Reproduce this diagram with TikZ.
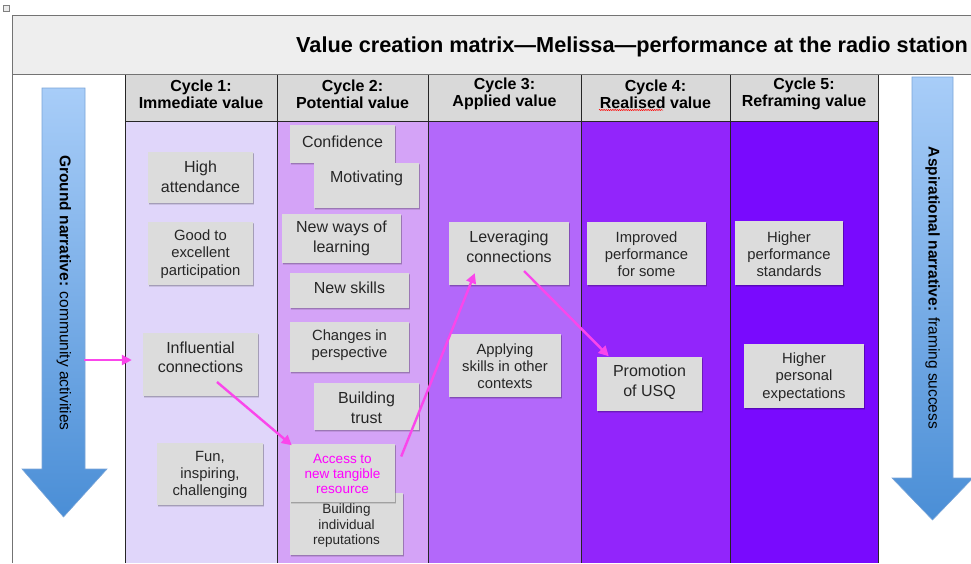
\documentclass[tikz,border=0pt]{standalone}
\usepackage{fontspec}
\setmainfont{Liberation Sans}
\usetikzlibrary{arrows.meta,calc,decorations.pathmorphing}
\definecolor{cA}{HTML}{E0D6FA}
\definecolor{cB}{HTML}{D4A3F7}
\definecolor{cC}{HTML}{B368FA}
\definecolor{cD}{HTML}{9225FB}
\definecolor{cE}{HTML}{790AFE}
\definecolor{headfill}{HTML}{D9D9D9}
\definecolor{titlefill}{HTML}{EEEEEE}
\definecolor{notefill}{HTML}{DCDCDC}
\definecolor{pinkline}{RGB}{250,70,235}
\definecolor{accesstext}{RGB}{255,0,255}
\definecolor{arrowtop}{HTML}{A8CDF8}
\definecolor{arrowbot}{HTML}{4A8ED6}
\definecolor{arrowedge}{HTML}{7AA5D8}
\newcommand\stickynote[8]{%
  \node[note, minimum width=#4pt, minimum height=#5pt] (#1) at (#2,#3) {};
  \node[notetext, #7] (#1t) at (#2,#6) {#8};}
\begin{document}
\begin{tikzpicture}[x=1pt,y=-1pt,
  note/.style={fill=notefill, inner sep=0pt,
    preaction={fill=black, opacity=0.10, transform canvas={xshift=0.8pt, yshift=-2.2pt}},
    preaction={fill=black, opacity=0.18, transform canvas={xshift=0.5pt, yshift=-1.2pt}}},
  notetext/.style={align=center, inner sep=0pt, text=black!85},
  big/.style={font=\fontsize{16}{19.5}\selectfont},
  mid/.style={font=\fontsize{14.8}{17.2}\selectfont},
  small/.style={font=\fontsize{13.5}{15.3}\selectfont},
  head/.style={align=center, inner sep=0pt, font=\bfseries\fontsize{16}{17}\selectfont},
  grid/.style={draw=black!85, line width=0.9pt},
  link/.style={draw=pinkline, line width=2.4pt, -{Triangle[length=10pt,width=10pt]}},
  bigarrow/.style={draw=arrowedge, line width=0.6pt, top color=arrowtop, bottom color=arrowbot},
  side/.style={rotate=-90, inner sep=0pt, font=\fontsize{15.5}{18}\selectfont}
]
\useasboundingbox (0,0) rectangle (971,563);
% tiny icon
\draw[black!50, fill=black!8, line width=0.4pt] (3,5) rectangle (9,11);
% title box
\draw[draw=black!55, line width=1pt, fill=titlefill] (12,15) rectangle (990,74);
\node[anchor=base west, inner sep=0pt, font=\bfseries\fontsize{21.7}{24}\selectfont] (title) at (296,52) {Value creation matrix—Melissa—performance at the radio station};
\draw[draw=black!55, line width=1pt] (12,74) -- (12,563);
% columns
\fill[cA] (125,121) rectangle (277,563);
\fill[cB] (277,121) rectangle (428,563);
\fill[cC] (428,121) rectangle (581,563);
\fill[cD] (581,121) rectangle (730,563);
\fill[cE] (730,121) rectangle (878,563);
\fill[headfill] (125,74) rectangle (878,121);
\draw[grid] (125,121) -- (878,121);
\foreach \xx in {125,277,428,581,730,878} { \draw[grid] (\xx,74) -- (\xx,563); }
\draw[draw=black!55, line width=1pt] (12,74) -- (990,74);
% headers
\node[head] (h1) at (201,94) {Cycle 1:\\Immediate value};
\node[head] (h2) at (352.5,94) {Cycle 2:\\Potential value};
\node[head] (h3) at (504.5,94) {Cycle 3:\\Applied value};
\node[head] (h4) at (655.5,94) {Cycle 4:\\Realised value};
\node[head] (h5) at (804,94) {Cycle 5:\\Reframing value};
\draw[red, line width=0.5pt, decorate, decoration={snake, amplitude=0.6pt, segment length=2.2pt}] (599,110) -- (663,110);
% big arrows
\path[bigarrow] (42,88) -- (85,88) -- (85,469) -- (107,469) -- (63.5,517) -- (22,469) -- (42,469) -- cycle;
\node[side] (gtext) at (64,293) {\textbf{Ground narrative:} community activities};
\path[bigarrow] (912,77) -- (953,77) -- (953,478) -- (973,478) -- (932.5,520) -- (892,478) -- (912,478) -- cycle;
\node[side] (atext) at (932.5,288) {\textbf{Aspirational narrative:} framing success};
% cycle 1
\stickynote{hi}{200.5}{177.5}{105}{51}{177}{big}{High\\attendance}
\stickynote{good}{200.5}{253.5}{105}{63}{254}{mid}{Good to\\excellent\\participation}
\stickynote{infl}{200.5}{364.5}{115}{63}{357.5}{big}{Influential\\connections}
\stickynote{fun}{210}{474}{106}{62}{475}{mid}{Fun,\\inspiring,\\challenging}
% cycle 2
\stickynote{conf}{342.5}{144}{105}{38}{141.5}{big}{Confidence}
\stickynote{mot}{366.5}{185.5}{105}{45}{178.5}{big}{Motivating}
\stickynote{ways}{341.5}{238.5}{119}{49}{238.5}{big}{New ways of\\learning}
\stickynote{skills}{349.5}{290.5}{119}{35}{288}{big}{New skills}
\stickynote{chg}{349.5}{347}{119}{50}{345}{mid}{Changes in\\perspective}
\stickynote{trust}{366.5}{406.5}{105}{47}{408}{big}{Building\\trust}
\stickynote{rep}{346.5}{524}{113}{62}{525.5}{small}{Building\\individual\\reputations}
\stickynote{acc}{342.5}{473}{105}{58}{474}{small, text=accesstext}{Access to\\new tangible\\resource}
% cycle 3
\stickynote{lev}{509}{253.5}{120}{63}{247}{big}{Leveraging\\connections}
\stickynote{app}{505}{365.5}{112}{63}{366.5}{mid}{Applying\\skills in other\\contexts}
% cycle 4
\stickynote{imp}{646.5}{253.5}{119}{63}{254}{mid}{Improved\\performance\\for some}
\stickynote{promo}{649.5}{384}{105}{54}{382}{big}{Promotion\\of USQ}
% cycle 5
\stickynote{hps}{789}{253}{108}{64}{254}{mid}{Higher\\performance\\standards}
\stickynote{hpe}{804}{376}{120}{64}{377}{mid}{Higher\\personal\\expectations}
% connectors
\coordinate (s0) at (84,360);
\coordinate (e0) at ($(infl.west)+(-11,-4.5)$);
\coordinate (s1) at ($(infl.center)+(16.5,17.5)$);
\coordinate (e1) at ($(acc.north west)+(2,1.5)$);
\coordinate (s2) at ($(acc.east)+(6,-16.5)$);
\coordinate (e2) at ($(lev.south west)+(26,-12)$);
\coordinate (s3) at ($(lev.center)+(15,17.5)$);
\coordinate (e3) at ($(promo.north west)+(12,-0.5)$);
\draw[link] (s0) -- (e0);
\draw[link] (s1) -- (e1);
\draw[link] (s2) -- (e2);
\draw[link] (s3) -- (e3);
\end{tikzpicture}
\end{document}
